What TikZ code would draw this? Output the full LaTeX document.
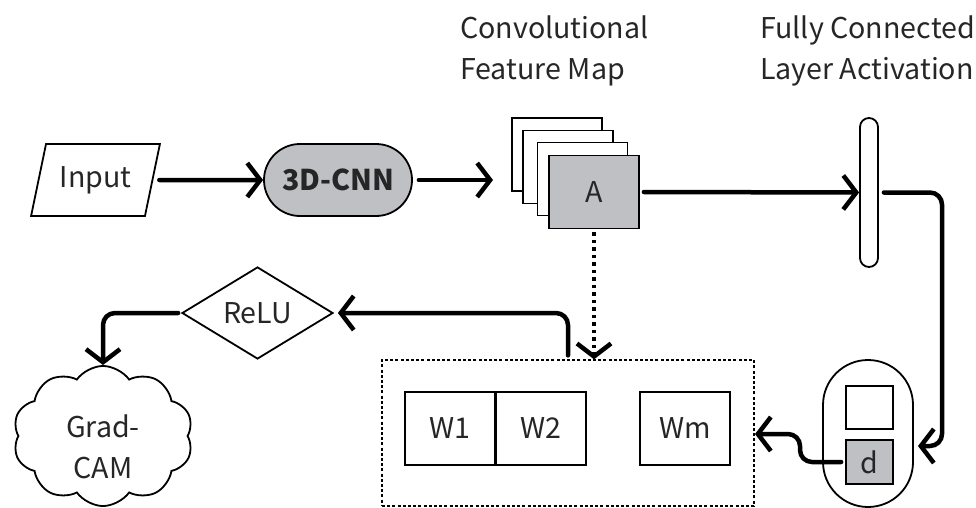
\documentclass[tikz,border=0pt]{standalone}
\usepackage{fontspec}
\setmainfont{Noto Sans CJK SC}
\usetikzlibrary{arrows.meta,shapes.geometric,shapes.misc,shapes.symbols}
\definecolor{txt}{HTML}{262626}
\definecolor{gfill}{HTML}{BEC0C4}
\tikzset{
  lbl/.style={font=\fontsize{28.6}{41}\selectfont, text=txt},
  outline/.style={draw=black, line width=1.8pt},
  conn/.style={line width=4.5pt, line cap=round, line join=round,
    -{Straight Barb[length=13pt,width=34pt]}},
  fmap/.style={outline, rectangle, minimum width=90pt, minimum height=73pt, inner sep=0pt},
  wcell/.style={outline, rectangle, minimum height=73pt, inner sep=0pt, lbl},
}
\begin{document}
\begin{tikzpicture}[x=1pt,y=-1pt]
\useasboundingbox (0,0) rectangle (976,508);

% column headings
\node[lbl, inner sep=0pt, anchor=base west, align=left] (hconv) at (460,80) {Convolutional\\Feature Map};
\node[lbl, inner sep=0pt, anchor=base west, align=left] (hfc) at (760,80) {Fully Connected\\Layer Activation};

% input and network
\node[outline, lbl, trapezium, trapezium left angle=68.5, trapezium right angle=111.5,
  trapezium stretches=true, minimum width=129pt, minimum height=72pt, inner sep=0pt]
  (in) at (95.5,180) {Input};
\node[outline, lbl, rounded rectangle, fill=gfill, minimum width=148pt, minimum height=72pt,
  inner sep=0pt, font=\fontsize{28.6}{41}\selectfont\bfseries] (cnn) at (338,180) {3D-CNN};

% stack of feature maps
\node[fmap, fill=white] (f1) at (557,154.5) {};
\node[fmap, fill=white] (f2) at (568,167) {};
\node[fmap, fill=white] (f3) at (582.5,179) {};
\node[fmap, fill=gfill, lbl] (fa) at (594,192) {A};
\coordinate (fmin) at (493,180);

% fully connected layer
\node[outline, rectangle, rounded corners=9pt, minimum width=18pt, minimum height=149pt,
  inner sep=0pt] (bar) at (869,192.5) {};

% activation vector
\node[outline, rectangle, rounded corners=45pt, minimum width=90pt, minimum height=147pt,
  inner sep=0pt] (pill) at (868,433.5) {};
\node[outline, rectangle, minimum width=47pt, minimum height=43pt, inner sep=0pt] (slot) at (869.5,407.5) {};
\node[outline, rectangle, fill=gfill, minimum width=47pt, minimum height=44pt, inner sep=0pt, lbl] (dd) at (869.5,462) {d};
\coordinate (pillin) at (918,446);

% weights
\node[draw=black, line width=1.3pt, dash pattern=on 3pt off 2.2pt, rectangle,
  minimum width=372pt, minimum height=146pt, inner sep=0pt] (wbox) at (568,433) {};
\node[wcell, minimum width=90pt] (w1) at (450,428.5) {W1};
\node[wcell, minimum width=89.5pt] (w2) at (541.25,428.5) {W2};
\node[wcell, minimum width=90pt] (wm) at (685,428.5) {Wm};
\coordinate (wboxin) at (755,434);

% ReLU and output
\node[outline, lbl, diamond, aspect=1.64, minimum width=151pt, minimum height=92pt,
  inner sep=0pt] (relu) at (257.5,313) {ReLU};
\node[outline, lbl, cloud, cloud puffs=10, cloud puff arc=110, aspect=1.3,
  minimum width=180pt, minimum height=138pt, inner sep=0pt, align=center]
  (cam) at (103,436) {\rule{0pt}{44pt}Grad-\\CAM};
\coordinate (camin) at (103,365);

% connectors
\draw[conn] ([xshift=6pt]in.east) -- (cnn.west);
\draw[conn] ([xshift=6pt]cnn.east) -- (fmin);
\draw[conn] ([xshift=4pt]fa.east) -- (bar.west);
\draw[conn, rounded corners=12pt] ([xshift=5pt]bar.east) -- (942,192.5) -- (942,446) -- (pillin);
\draw[conn, rounded corners=12pt] ([xshift=-4pt]dd.west) -- (800,462) -- (800,434) -- (wboxin);
\draw[conn, line cap=butt, dash pattern=on 3.5pt off 4pt] ([yshift=-3pt]fa.south) -- (fa.south |- wbox.north);
\draw[conn, rounded corners=12pt] ([yshift=4pt]wbox.north) -- (568,313) -- ([xshift=4pt]relu.east);
\draw[conn, rounded corners=12pt] ([xshift=-3pt]relu.west) -- (103,313) -- (camin);
\end{tikzpicture}
\end{document}
